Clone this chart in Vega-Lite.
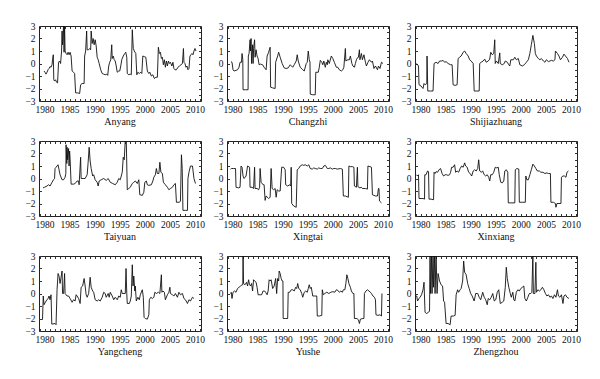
{
"$schema":"https://vega.github.io/schema/vega-lite/v6.json",
"background":"white",
"padding":{"left":24,"top":20,"right":2,"bottom":2},
"data":{"values":[
{"c":"Anyang","t":1979.9,"v":-0.6},{"c":"Anyang","t":1980.1,"v":-0.7},{"c":"Anyang","t":1980.3,"v":-0.85},{"c":"Anyang","t":1980.5,"v":-0.7},{"c":"Anyang","t":1980.7,"v":-0.5},{"c":"Anyang","t":1980.9,"v":-0.4},{"c":"Anyang","t":1981.1,"v":-0.25},{"c":"Anyang","t":1981.3,"v":-0.3},{"c":"Anyang","t":1981.5,"v":-0.1},{"c":"Anyang","t":1981.6,"v":0.3},{"c":"Anyang","t":1981.75,"v":0.7},{"c":"Anyang","t":1981.85,"v":-1.3},{"c":"Anyang","t":1982.0,"v":-1.4},{"c":"Anyang","t":1982.2,"v":-1.3},{"c":"Anyang","t":1982.4,"v":-1.5},{"c":"Anyang","t":1982.6,"v":-1.55},{"c":"Anyang","t":1982.8,"v":0.1},{"c":"Anyang","t":1983.0,"v":0.2},{"c":"Anyang","t":1983.2,"v":0.0},{"c":"Anyang","t":1983.4,"v":1.0},{"c":"Anyang","t":1983.5,"v":2.6},{"c":"Anyang","t":1983.6,"v":1.5},{"c":"Anyang","t":1983.8,"v":3.1},{"c":"Anyang","t":1983.9,"v":0.9},{"c":"Anyang","t":1984.0,"v":3.1},{"c":"Anyang","t":1984.1,"v":1.0},{"c":"Anyang","t":1984.3,"v":0.8},{"c":"Anyang","t":1984.5,"v":0.7},{"c":"Anyang","t":1984.7,"v":0.9},{"c":"Anyang","t":1984.9,"v":0.7},{"c":"Anyang","t":1985.1,"v":0.9},{"c":"Anyang","t":1985.3,"v":0.6},{"c":"Anyang","t":1985.5,"v":-0.6},{"c":"Anyang","t":1985.8,"v":-0.7},{"c":"Anyang","t":1986.0,"v":-0.8},{"c":"Anyang","t":1986.2,"v":-2.35},{"c":"Anyang","t":1986.6,"v":-2.35},{"c":"Anyang","t":1987.0,"v":-2.4},{"c":"Anyang","t":1987.2,"v":-1.7},{"c":"Anyang","t":1987.5,"v":-1.6},{"c":"Anyang","t":1987.9,"v":-1.6},{"c":"Anyang","t":1988.0,"v":0.6},{"c":"Anyang","t":1988.2,"v":1.0},{"c":"Anyang","t":1988.4,"v":2.6},{"c":"Anyang","t":1988.5,"v":1.1},{"c":"Anyang","t":1988.8,"v":1.1},{"c":"Anyang","t":1989.0,"v":1.2},{"c":"Anyang","t":1989.2,"v":1.1},{"c":"Anyang","t":1989.3,"v":2.6},{"c":"Anyang","t":1989.5,"v":1.6},{"c":"Anyang","t":1989.7,"v":2.0},{"c":"Anyang","t":1989.9,"v":1.5},{"c":"Anyang","t":1990.1,"v":1.9},{"c":"Anyang","t":1990.3,"v":1.4},{"c":"Anyang","t":1990.5,"v":0.5},{"c":"Anyang","t":1990.7,"v":0.3},{"c":"Anyang","t":1990.9,"v":0.0},{"c":"Anyang","t":1991.2,"v":-0.5},{"c":"Anyang","t":1991.5,"v":-0.8},{"c":"Anyang","t":1991.8,"v":-0.85},{"c":"Anyang","t":1992.1,"v":-0.9},{"c":"Anyang","t":1992.4,"v":-0.85},{"c":"Anyang","t":1992.6,"v":-0.95},{"c":"Anyang","t":1992.8,"v":-0.2},{"c":"Anyang","t":1993.0,"v":0.1},{"c":"Anyang","t":1993.2,"v":0.3},{"c":"Anyang","t":1993.4,"v":1.5},{"c":"Anyang","t":1993.5,"v":0.4},{"c":"Anyang","t":1993.7,"v":0.6},{"c":"Anyang","t":1993.9,"v":0.3},{"c":"Anyang","t":1994.1,"v":0.2},{"c":"Anyang","t":1994.3,"v":-0.2},{"c":"Anyang","t":1994.5,"v":-0.7},{"c":"Anyang","t":1994.8,"v":-0.6},{"c":"Anyang","t":1995.0,"v":-0.6},{"c":"Anyang","t":1995.2,"v":-0.2},{"c":"Anyang","t":1995.4,"v":0.3},{"c":"Anyang","t":1995.7,"v":0.6},{"c":"Anyang","t":1996.0,"v":0.8},{"c":"Anyang","t":1996.2,"v":0.9},{"c":"Anyang","t":1996.4,"v":0.5},{"c":"Anyang","t":1996.5,"v":-0.8},{"c":"Anyang","t":1996.8,"v":-0.9},{"c":"Anyang","t":1997.1,"v":-0.85},{"c":"Anyang","t":1997.3,"v":-0.9},{"c":"Anyang","t":1997.5,"v":2.7},{"c":"Anyang","t":1997.7,"v":1.2},{"c":"Anyang","t":1997.9,"v":1.0},{"c":"Anyang","t":1998.2,"v":0.8},{"c":"Anyang","t":1998.4,"v":-0.9},{"c":"Anyang","t":1998.6,"v":-0.7},{"c":"Anyang","t":1998.9,"v":-0.8},{"c":"Anyang","t":1999.2,"v":-0.7},{"c":"Anyang","t":1999.4,"v":-0.8},{"c":"Anyang","t":1999.6,"v":0.6},{"c":"Anyang","t":1999.9,"v":0.55},{"c":"Anyang","t":2000.2,"v":0.5},{"c":"Anyang","t":2000.5,"v":-0.6},{"c":"Anyang","t":2000.8,"v":-0.8},{"c":"Anyang","t":2001.0,"v":-0.7},{"c":"Anyang","t":2001.3,"v":-1.0},{"c":"Anyang","t":2001.6,"v":-0.9},{"c":"Anyang","t":2001.9,"v":-1.2},{"c":"Anyang","t":2002.2,"v":-1.1},{"c":"Anyang","t":2002.5,"v":-1.1},{"c":"Anyang","t":2002.7,"v":1.3},{"c":"Anyang","t":2002.9,"v":0.8},{"c":"Anyang","t":2003.1,"v":0.9},{"c":"Anyang","t":2003.3,"v":0.4},{"c":"Anyang","t":2003.5,"v":0.5},{"c":"Anyang","t":2003.7,"v":-0.1},{"c":"Anyang","t":2003.9,"v":0.3},{"c":"Anyang","t":2004.1,"v":-0.3},{"c":"Anyang","t":2004.3,"v":0.2},{"c":"Anyang","t":2004.5,"v":-0.2},{"c":"Anyang","t":2004.7,"v":0.2},{"c":"Anyang","t":2004.9,"v":0.0},{"c":"Anyang","t":2005.1,"v":0.1},{"c":"Anyang","t":2005.4,"v":-0.2},{"c":"Anyang","t":2005.6,"v":0.1},{"c":"Anyang","t":2005.8,"v":-0.4},{"c":"Anyang","t":2006.0,"v":-0.5},{"c":"Anyang","t":2006.3,"v":-0.5},{"c":"Anyang","t":2006.6,"v":-0.3},{"c":"Anyang","t":2006.9,"v":-0.2},{"c":"Anyang","t":2007.2,"v":-0.1},{"c":"Anyang","t":2007.5,"v":0.0},{"c":"Anyang","t":2007.7,"v":1.2},{"c":"Anyang","t":2007.8,"v":0.1},{"c":"Anyang","t":2008.0,"v":0.0},{"c":"Anyang","t":2008.2,"v":-0.3},{"c":"Anyang","t":2008.4,"v":-0.2},{"c":"Anyang","t":2008.6,"v":-0.5},{"c":"Anyang","t":2008.8,"v":-0.4},{"c":"Anyang","t":2009.0,"v":0.6},{"c":"Anyang","t":2009.2,"v":0.7},{"c":"Anyang","t":2009.4,"v":0.8},{"c":"Anyang","t":2009.6,"v":0.7},{"c":"Anyang","t":2009.8,"v":1.0},{"c":"Anyang","t":2010.0,"v":1.2},{"c":"Anyang","t":2010.2,"v":1.0},
{"c":"Changzhi","t":1979.7,"v":0.15},{"c":"Changzhi","t":1979.9,"v":0.1},{"c":"Changzhi","t":1980.1,"v":-0.5},{"c":"Changzhi","t":1980.3,"v":-0.6},{"c":"Changzhi","t":1980.7,"v":-0.55},{"c":"Changzhi","t":1981.0,"v":-0.5},{"c":"Changzhi","t":1981.3,"v":-0.3},{"c":"Changzhi","t":1981.5,"v":0.1},{"c":"Changzhi","t":1981.8,"v":0.1},{"c":"Changzhi","t":1981.9,"v":0.8},{"c":"Changzhi","t":1982.05,"v":0.3},{"c":"Changzhi","t":1982.1,"v":-2.1},{"c":"Changzhi","t":1982.6,"v":-2.1},{"c":"Changzhi","t":1983.1,"v":-2.1},{"c":"Changzhi","t":1983.15,"v":0.6},{"c":"Changzhi","t":1983.3,"v":0.8},{"c":"Changzhi","t":1983.5,"v":1.9},{"c":"Changzhi","t":1983.6,"v":1.0},{"c":"Changzhi","t":1983.7,"v":2.0},{"c":"Changzhi","t":1983.8,"v":0.0},{"c":"Changzhi","t":1984.0,"v":1.5},{"c":"Changzhi","t":1984.1,"v":0.0},{"c":"Changzhi","t":1984.2,"v":1.2},{"c":"Changzhi","t":1984.4,"v":1.9},{"c":"Changzhi","t":1984.5,"v":0.5},{"c":"Changzhi","t":1984.7,"v":1.1},{"c":"Changzhi","t":1984.9,"v":0.6},{"c":"Changzhi","t":1985.1,"v":0.4},{"c":"Changzhi","t":1985.3,"v":-0.1},{"c":"Changzhi","t":1985.6,"v":-0.05},{"c":"Changzhi","t":1986.0,"v":-0.1},{"c":"Changzhi","t":1986.3,"v":-0.3},{"c":"Changzhi","t":1986.7,"v":-0.5},{"c":"Changzhi","t":1986.9,"v":0.6},{"c":"Changzhi","t":1987.2,"v":0.9},{"c":"Changzhi","t":1987.5,"v":1.3},{"c":"Changzhi","t":1987.6,"v":-1.9},{"c":"Changzhi","t":1988.0,"v":-1.95},{"c":"Changzhi","t":1988.5,"v":-2.0},{"c":"Changzhi","t":1988.6,"v":0.1},{"c":"Changzhi","t":1989.0,"v":0.6},{"c":"Changzhi","t":1989.2,"v":0.9},{"c":"Changzhi","t":1989.5,"v":0.5},{"c":"Changzhi","t":1989.9,"v":0.0},{"c":"Changzhi","t":1990.3,"v":-0.35},{"c":"Changzhi","t":1990.7,"v":-0.4},{"c":"Changzhi","t":1991.1,"v":-0.35},{"c":"Changzhi","t":1991.5,"v":-0.1},{"c":"Changzhi","t":1992.0,"v":-0.3},{"c":"Changzhi","t":1992.3,"v":-0.1},{"c":"Changzhi","t":1992.7,"v":0.2},{"c":"Changzhi","t":1992.9,"v":0.7},{"c":"Changzhi","t":1993.1,"v":0.2},{"c":"Changzhi","t":1993.5,"v":-0.3},{"c":"Changzhi","t":1994.0,"v":-0.5},{"c":"Changzhi","t":1994.3,"v":-0.6},{"c":"Changzhi","t":1994.7,"v":0.0},{"c":"Changzhi","t":1994.9,"v":0.1},{"c":"Changzhi","t":1995.1,"v":1.0},{"c":"Changzhi","t":1995.3,"v":0.3},{"c":"Changzhi","t":1995.45,"v":0.1},{"c":"Changzhi","t":1995.5,"v":-2.45},{"c":"Changzhi","t":1996.0,"v":-2.5},{"c":"Changzhi","t":1996.5,"v":-2.5},{"c":"Changzhi","t":1996.6,"v":-0.7},{"c":"Changzhi","t":1997.1,"v":-0.7},{"c":"Changzhi","t":1997.3,"v":-0.3},{"c":"Changzhi","t":1997.5,"v":0.25},{"c":"Changzhi","t":1997.8,"v":0.1},{"c":"Changzhi","t":1998.0,"v":-0.1},{"c":"Changzhi","t":1998.2,"v":0.2},{"c":"Changzhi","t":1998.5,"v":-0.3},{"c":"Changzhi","t":1998.7,"v":0.1},{"c":"Changzhi","t":1998.9,"v":-0.1},{"c":"Changzhi","t":1999.0,"v":0.3},{"c":"Changzhi","t":1999.3,"v":0.0},{"c":"Changzhi","t":1999.7,"v":0.6},{"c":"Changzhi","t":2000.0,"v":0.4},{"c":"Changzhi","t":2000.3,"v":0.1},{"c":"Changzhi","t":2000.7,"v":-0.3},{"c":"Changzhi","t":2001.0,"v":-0.3},{"c":"Changzhi","t":2001.3,"v":-0.5},{"c":"Changzhi","t":2001.7,"v":-0.6},{"c":"Changzhi","t":2002.0,"v":-0.5},{"c":"Changzhi","t":2002.2,"v":-0.3},{"c":"Changzhi","t":2002.5,"v":1.2},{"c":"Changzhi","t":2002.6,"v":0.2},{"c":"Changzhi","t":2003.0,"v":0.3},{"c":"Changzhi","t":2003.3,"v":0.3},{"c":"Changzhi","t":2003.5,"v":0.6},{"c":"Changzhi","t":2003.8,"v":0.0},{"c":"Changzhi","t":2004.0,"v":-0.2},{"c":"Changzhi","t":2004.3,"v":-0.3},{"c":"Changzhi","t":2004.5,"v":0.0},{"c":"Changzhi","t":2004.7,"v":0.3},{"c":"Changzhi","t":2005.0,"v":0.5},{"c":"Changzhi","t":2005.1,"v":0.5},{"c":"Changzhi","t":2005.3,"v":1.1},{"c":"Changzhi","t":2005.4,"v":0.3},{"c":"Changzhi","t":2005.7,"v":0.8},{"c":"Changzhi","t":2005.9,"v":0.3},{"c":"Changzhi","t":2006.2,"v":0.7},{"c":"Changzhi","t":2006.5,"v":0.1},{"c":"Changzhi","t":2006.7,"v":-0.2},{"c":"Changzhi","t":2007.0,"v":0.1},{"c":"Changzhi","t":2007.3,"v":0.3},{"c":"Changzhi","t":2007.7,"v":0.1},{"c":"Changzhi","t":2007.9,"v":0.2},{"c":"Changzhi","t":2008.2,"v":-0.4},{"c":"Changzhi","t":2008.5,"v":-0.2},{"c":"Changzhi","t":2008.9,"v":-0.5},{"c":"Changzhi","t":2009.1,"v":-0.2},{"c":"Changzhi","t":2009.4,"v":-0.4},{"c":"Changzhi","t":2009.7,"v":0.1},{"c":"Changzhi","t":2010.0,"v":0.0},
{"c":"Shijiazhuang","t":1979.2,"v":0.0},{"c":"Shijiazhuang","t":1979.4,"v":-0.1},{"c":"Shijiazhuang","t":1979.6,"v":-0.2},{"c":"Shijiazhuang","t":1979.7,"v":-1.7},{"c":"Shijiazhuang","t":1980.1,"v":-1.8},{"c":"Shijiazhuang","t":1980.5,"v":-2.0},{"c":"Shijiazhuang","t":1980.7,"v":-1.6},{"c":"Shijiazhuang","t":1980.9,"v":-1.7},{"c":"Shijiazhuang","t":1981.25,"v":-1.6},{"c":"Shijiazhuang","t":1981.3,"v":0.6},{"c":"Shijiazhuang","t":1981.45,"v":-2.2},{"c":"Shijiazhuang","t":1982.0,"v":-2.2},{"c":"Shijiazhuang","t":1982.5,"v":-2.2},{"c":"Shijiazhuang","t":1982.7,"v":0.0},{"c":"Shijiazhuang","t":1983.1,"v":0.1},{"c":"Shijiazhuang","t":1983.5,"v":0.0},{"c":"Shijiazhuang","t":1983.8,"v":0.2},{"c":"Shijiazhuang","t":1984.2,"v":0.2},{"c":"Shijiazhuang","t":1984.5,"v":0.25},{"c":"Shijiazhuang","t":1984.8,"v":0.1},{"c":"Shijiazhuang","t":1985.1,"v":0.15},{"c":"Shijiazhuang","t":1985.5,"v":0.0},{"c":"Shijiazhuang","t":1986.0,"v":-0.1},{"c":"Shijiazhuang","t":1986.3,"v":-0.1},{"c":"Shijiazhuang","t":1986.5,"v":-1.7},{"c":"Shijiazhuang","t":1986.9,"v":-1.75},{"c":"Shijiazhuang","t":1987.3,"v":-1.7},{"c":"Shijiazhuang","t":1987.5,"v":0.4},{"c":"Shijiazhuang","t":1987.8,"v":0.5},{"c":"Shijiazhuang","t":1988.1,"v":0.6},{"c":"Shijiazhuang","t":1988.5,"v":0.9},{"c":"Shijiazhuang","t":1988.8,"v":1.0},{"c":"Shijiazhuang","t":1989.1,"v":0.8},{"c":"Shijiazhuang","t":1989.5,"v":0.6},{"c":"Shijiazhuang","t":1989.8,"v":0.3},{"c":"Shijiazhuang","t":1990.1,"v":0.2},{"c":"Shijiazhuang","t":1990.5,"v":0.0},{"c":"Shijiazhuang","t":1990.7,"v":-2.2},{"c":"Shijiazhuang","t":1991.2,"v":-2.2},{"c":"Shijiazhuang","t":1991.7,"v":-2.2},{"c":"Shijiazhuang","t":1991.8,"v":0.0},{"c":"Shijiazhuang","t":1992.1,"v":0.1},{"c":"Shijiazhuang","t":1992.5,"v":0.2},{"c":"Shijiazhuang","t":1992.8,"v":0.35},{"c":"Shijiazhuang","t":1993.1,"v":0.1},{"c":"Shijiazhuang","t":1993.5,"v":0.2},{"c":"Shijiazhuang","t":1993.8,"v":0.35},{"c":"Shijiazhuang","t":1994.0,"v":0.9},{"c":"Shijiazhuang","t":1994.3,"v":0.7},{"c":"Shijiazhuang","t":1994.6,"v":0.8},{"c":"Shijiazhuang","t":1994.8,"v":1.9},{"c":"Shijiazhuang","t":1994.9,"v":0.0},{"c":"Shijiazhuang","t":1995.1,"v":0.2},{"c":"Shijiazhuang","t":1995.5,"v":0.0},{"c":"Shijiazhuang","t":1995.8,"v":0.85},{"c":"Shijiazhuang","t":1995.9,"v":0.0},{"c":"Shijiazhuang","t":1996.3,"v":-0.1},{"c":"Shijiazhuang","t":1996.7,"v":0.0},{"c":"Shijiazhuang","t":1996.9,"v":0.2},{"c":"Shijiazhuang","t":1997.3,"v":0.1},{"c":"Shijiazhuang","t":1997.6,"v":-0.1},{"c":"Shijiazhuang","t":1997.8,"v":-0.2},{"c":"Shijiazhuang","t":1998.0,"v":0.3},{"c":"Shijiazhuang","t":1998.5,"v":0.3},{"c":"Shijiazhuang","t":1998.8,"v":0.5},{"c":"Shijiazhuang","t":1999.1,"v":0.3},{"c":"Shijiazhuang","t":1999.5,"v":0.4},{"c":"Shijiazhuang","t":1999.8,"v":-0.1},{"c":"Shijiazhuang","t":2000.3,"v":-0.2},{"c":"Shijiazhuang","t":2000.7,"v":-0.1},{"c":"Shijiazhuang","t":2001.1,"v":0.1},{"c":"Shijiazhuang","t":2001.5,"v":0.3},{"c":"Shijiazhuang","t":2001.8,"v":0.8},{"c":"Shijiazhuang","t":2002.1,"v":1.5},{"c":"Shijiazhuang","t":2002.4,"v":2.25},{"c":"Shijiazhuang","t":2002.7,"v":1.6},{"c":"Shijiazhuang","t":2002.9,"v":0.8},{"c":"Shijiazhuang","t":2003.1,"v":0.6},{"c":"Shijiazhuang","t":2003.5,"v":0.4},{"c":"Shijiazhuang","t":2003.8,"v":0.3},{"c":"Shijiazhuang","t":2004.1,"v":0.4},{"c":"Shijiazhuang","t":2004.5,"v":0.2},{"c":"Shijiazhuang","t":2004.8,"v":0.1},{"c":"Shijiazhuang","t":2005.1,"v":0.3},{"c":"Shijiazhuang","t":2005.5,"v":0.15},{"c":"Shijiazhuang","t":2005.8,"v":0.2},{"c":"Shijiazhuang","t":2006.1,"v":0.25},{"c":"Shijiazhuang","t":2006.5,"v":0.2},{"c":"Shijiazhuang","t":2006.8,"v":0.3},{"c":"Shijiazhuang","t":2006.9,"v":1.0},{"c":"Shijiazhuang","t":2007.3,"v":0.8},{"c":"Shijiazhuang","t":2007.6,"v":0.6},{"c":"Shijiazhuang","t":2007.9,"v":0.3},{"c":"Shijiazhuang","t":2008.3,"v":0.5},{"c":"Shijiazhuang","t":2008.6,"v":0.75},{"c":"Shijiazhuang","t":2008.9,"v":0.6},{"c":"Shijiazhuang","t":2009.3,"v":0.4},{"c":"Shijiazhuang","t":2009.6,"v":0.1},
{"c":"Taiyuan","t":1979.7,"v":-0.75},{"c":"Taiyuan","t":1980.0,"v":-0.7},{"c":"Taiyuan","t":1980.5,"v":-0.6},{"c":"Taiyuan","t":1980.8,"v":-0.5},{"c":"Taiyuan","t":1981.1,"v":-0.6},{"c":"Taiyuan","t":1981.5,"v":-0.3},{"c":"Taiyuan","t":1981.8,"v":-0.1},{"c":"Taiyuan","t":1982.0,"v":0.0},{"c":"Taiyuan","t":1982.1,"v":0.8},{"c":"Taiyuan","t":1982.3,"v":0.9},{"c":"Taiyuan","t":1982.7,"v":1.1},{"c":"Taiyuan","t":1982.9,"v":0.7},{"c":"Taiyuan","t":1983.1,"v":0.3},{"c":"Taiyuan","t":1983.5,"v":-0.1},{"c":"Taiyuan","t":1983.8,"v":-0.1},{"c":"Taiyuan","t":1984.1,"v":0.1},{"c":"Taiyuan","t":1984.25,"v":0.4},{"c":"Taiyuan","t":1984.3,"v":2.7},{"c":"Taiyuan","t":1984.45,"v":1.2},{"c":"Taiyuan","t":1984.5,"v":2.5},{"c":"Taiyuan","t":1984.6,"v":1.5},{"c":"Taiyuan","t":1984.8,"v":2.4},{"c":"Taiyuan","t":1984.9,"v":1.0},{"c":"Taiyuan","t":1985.0,"v":2.2},{"c":"Taiyuan","t":1985.1,"v":1.6},{"c":"Taiyuan","t":1985.3,"v":-0.45},{"c":"Taiyuan","t":1985.8,"v":-0.45},{"c":"Taiyuan","t":1986.1,"v":-0.4},{"c":"Taiyuan","t":1986.5,"v":-0.2},{"c":"Taiyuan","t":1986.8,"v":-0.2},{"c":"Taiyuan","t":1986.9,"v":-0.5},{"c":"Taiyuan","t":1987.2,"v":1.7},{"c":"Taiyuan","t":1987.3,"v":0.0},{"c":"Taiyuan","t":1987.7,"v":0.0},{"c":"Taiyuan","t":1988.1,"v":0.0},{"c":"Taiyuan","t":1988.5,"v":0.3},{"c":"Taiyuan","t":1988.7,"v":1.3},{"c":"Taiyuan","t":1988.9,"v":2.5},{"c":"Taiyuan","t":1989.1,"v":1.4},{"c":"Taiyuan","t":1989.3,"v":0.8},{"c":"Taiyuan","t":1989.6,"v":0.2},{"c":"Taiyuan","t":1989.8,"v":0.3},{"c":"Taiyuan","t":1990.1,"v":-0.1},{"c":"Taiyuan","t":1990.5,"v":-0.3},{"c":"Taiyuan","t":1990.7,"v":-0.6},{"c":"Taiyuan","t":1990.9,"v":-0.2},{"c":"Taiyuan","t":1991.3,"v":-0.1},{"c":"Taiyuan","t":1991.8,"v":0.0},{"c":"Taiyuan","t":1992.3,"v":-0.15},{"c":"Taiyuan","t":1992.7,"v":0.0},{"c":"Taiyuan","t":1993.1,"v":-0.3},{"c":"Taiyuan","t":1993.6,"v":-0.4},{"c":"Taiyuan","t":1994.1,"v":-0.5},{"c":"Taiyuan","t":1994.5,"v":-0.3},{"c":"Taiyuan","t":1994.8,"v":0.0},{"c":"Taiyuan","t":1995.1,"v":-0.1},{"c":"Taiyuan","t":1995.5,"v":0.5},{"c":"Taiyuan","t":1995.7,"v":1.7},{"c":"Taiyuan","t":1995.9,"v":1.5},{"c":"Taiyuan","t":1996.1,"v":3.1},{"c":"Taiyuan","t":1996.3,"v":3.1},{"c":"Taiyuan","t":1996.5,"v":-0.9},{"c":"Taiyuan","t":1996.8,"v":-0.8},{"c":"Taiyuan","t":1997.1,"v":-0.7},{"c":"Taiyuan","t":1997.5,"v":-0.4},{"c":"Taiyuan","t":1997.8,"v":-0.3},{"c":"Taiyuan","t":1998.1,"v":-0.2},{"c":"Taiyuan","t":1998.5,"v":-0.4},{"c":"Taiyuan","t":1998.8,"v":-0.1},{"c":"Taiyuan","t":1999.0,"v":-1.3},{"c":"Taiyuan","t":1999.5,"v":-1.35},{"c":"Taiyuan","t":1999.8,"v":-1.1},{"c":"Taiyuan","t":2000.0,"v":-0.3},{"c":"Taiyuan","t":2000.3,"v":-0.2},{"c":"Taiyuan","t":2000.5,"v":-0.5},{"c":"Taiyuan","t":2000.8,"v":-0.55},{"c":"Taiyuan","t":2001.3,"v":-0.5},{"c":"Taiyuan","t":2001.6,"v":-0.2},{"c":"Taiyuan","t":2001.8,"v":0.1},{"c":"Taiyuan","t":2002.1,"v":0.3},{"c":"Taiyuan","t":2002.3,"v":0.8},{"c":"Taiyuan","t":2002.5,"v":0.4},{"c":"Taiyuan","t":2002.8,"v":0.4},{"c":"Taiyuan","t":2003.0,"v":1.3},{"c":"Taiyuan","t":2003.2,"v":0.5},{"c":"Taiyuan","t":2003.5,"v":0.4},{"c":"Taiyuan","t":2003.7,"v":-0.3},{"c":"Taiyuan","t":2004.1,"v":-0.5},{"c":"Taiyuan","t":2004.5,"v":-0.7},{"c":"Taiyuan","t":2004.8,"v":-0.9},{"c":"Taiyuan","t":2005.1,"v":-0.8},{"c":"Taiyuan","t":2005.5,"v":-0.7},{"c":"Taiyuan","t":2005.8,"v":-0.5},{"c":"Taiyuan","t":2006.1,"v":-0.4},{"c":"Taiyuan","t":2006.3,"v":-1.9},{"c":"Taiyuan","t":2006.9,"v":-1.9},{"c":"Taiyuan","t":2007.1,"v":-1.8},{"c":"Taiyuan","t":2007.3,"v":1.9},{"c":"Taiyuan","t":2007.45,"v":0.8},{"c":"Taiyuan","t":2007.6,"v":-2.55},{"c":"Taiyuan","t":2008.1,"v":-2.55},{"c":"Taiyuan","t":2008.5,"v":-2.55},{"c":"Taiyuan","t":2008.6,"v":0.0},{"c":"Taiyuan","t":2008.8,"v":0.5},{"c":"Taiyuan","t":2009.1,"v":1.0},{"c":"Taiyuan","t":2009.5,"v":1.0},{"c":"Taiyuan","t":2009.8,"v":0.0},{"c":"Taiyuan","t":2010.1,"v":-0.4},
{"c":"Xingtai","t":1979.6,"v":0.75},{"c":"Xingtai","t":1979.8,"v":0.8},{"c":"Xingtai","t":1980.2,"v":0.8},{"c":"Xingtai","t":1980.6,"v":0.8},{"c":"Xingtai","t":1980.7,"v":-0.7},{"c":"Xingtai","t":1981.2,"v":-0.75},{"c":"Xingtai","t":1981.5,"v":-0.7},{"c":"Xingtai","t":1981.7,"v":1.0},{"c":"Xingtai","t":1981.9,"v":0.9},{"c":"Xingtai","t":1982.1,"v":0.2},{"c":"Xingtai","t":1982.3,"v":0.0},{"c":"Xingtai","t":1982.7,"v":0.2},{"c":"Xingtai","t":1983.0,"v":1.0},{"c":"Xingtai","t":1983.4,"v":0.9},{"c":"Xingtai","t":1983.5,"v":-0.7},{"c":"Xingtai","t":1983.9,"v":-0.7},{"c":"Xingtai","t":1984.2,"v":-0.8},{"c":"Xingtai","t":1984.4,"v":0.9},{"c":"Xingtai","t":1984.5,"v":-0.8},{"c":"Xingtai","t":1984.9,"v":-0.8},{"c":"Xingtai","t":1985.2,"v":-0.9},{"c":"Xingtai","t":1985.4,"v":-0.7},{"c":"Xingtai","t":1985.5,"v":0.8},{"c":"Xingtai","t":1985.7,"v":-0.3},{"c":"Xingtai","t":1986.1,"v":-0.5},{"c":"Xingtai","t":1986.3,"v":-0.5},{"c":"Xingtai","t":1986.5,"v":-1.75},{"c":"Xingtai","t":1986.7,"v":-1.4},{"c":"Xingtai","t":1987.2,"v":-1.6},{"c":"Xingtai","t":1987.5,"v":-1.5},{"c":"Xingtai","t":1987.7,"v":0.8},{"c":"Xingtai","t":1987.9,"v":-0.8},{"c":"Xingtai","t":1988.2,"v":-0.9},{"c":"Xingtai","t":1988.5,"v":-0.8},{"c":"Xingtai","t":1988.7,"v":-1.5},{"c":"Xingtai","t":1988.9,"v":-0.9},{"c":"Xingtai","t":1989.2,"v":-1.0},{"c":"Xingtai","t":1989.5,"v":-1.0},{"c":"Xingtai","t":1989.8,"v":0.9},{"c":"Xingtai","t":1990.2,"v":0.9},{"c":"Xingtai","t":1990.5,"v":0.7},{"c":"Xingtai","t":1990.6,"v":-0.5},{"c":"Xingtai","t":1991.0,"v":-0.6},{"c":"Xingtai","t":1991.4,"v":-0.5},{"c":"Xingtai","t":1991.6,"v":-0.6},{"c":"Xingtai","t":1991.7,"v":0.9},{"c":"Xingtai","t":1991.8,"v":-2.0},{"c":"Xingtai","t":1992.2,"v":-2.2},{"c":"Xingtai","t":1992.7,"v":-2.3},{"c":"Xingtai","t":1992.9,"v":0.7},{"c":"Xingtai","t":1993.2,"v":0.8},{"c":"Xingtai","t":1993.5,"v":1.0},{"c":"Xingtai","t":1993.9,"v":1.1},{"c":"Xingtai","t":1994.2,"v":1.05},{"c":"Xingtai","t":1994.5,"v":1.1},{"c":"Xingtai","t":1994.9,"v":1.0},{"c":"Xingtai","t":1995.2,"v":1.1},{"c":"Xingtai","t":1995.5,"v":0.8},{"c":"Xingtai","t":1995.9,"v":0.75},{"c":"Xingtai","t":1996.2,"v":0.85},{"c":"Xingtai","t":1996.5,"v":0.8},{"c":"Xingtai","t":1996.9,"v":0.75},{"c":"Xingtai","t":1997.2,"v":0.85},{"c":"Xingtai","t":1997.5,"v":0.8},{"c":"Xingtai","t":1997.9,"v":0.8},{"c":"Xingtai","t":1998.2,"v":1.0},{"c":"Xingtai","t":1998.5,"v":1.05},{"c":"Xingtai","t":1998.9,"v":0.8},{"c":"Xingtai","t":1999.2,"v":0.8},{"c":"Xingtai","t":1999.5,"v":0.85},{"c":"Xingtai","t":1999.9,"v":0.75},{"c":"Xingtai","t":2000.2,"v":0.8},{"c":"Xingtai","t":2000.5,"v":0.8},{"c":"Xingtai","t":2000.9,"v":0.75},{"c":"Xingtai","t":2001.5,"v":0.8},{"c":"Xingtai","t":2001.9,"v":0.75},{"c":"Xingtai","t":2002.1,"v":-1.4},{"c":"Xingtai","t":2002.5,"v":-1.4},{"c":"Xingtai","t":2003.1,"v":-1.5},{"c":"Xingtai","t":2003.2,"v":1.0},{"c":"Xingtai","t":2003.5,"v":0.95},{"c":"Xingtai","t":2003.9,"v":0.95},{"c":"Xingtai","t":2004.2,"v":0.9},{"c":"Xingtai","t":2004.3,"v":-0.6},{"c":"Xingtai","t":2004.7,"v":-0.7},{"c":"Xingtai","t":2004.9,"v":0.9},{"c":"Xingtai","t":2005.0,"v":-0.65},{"c":"Xingtai","t":2005.4,"v":-0.75},{"c":"Xingtai","t":2005.7,"v":-0.7},{"c":"Xingtai","t":2005.9,"v":-0.8},{"c":"Xingtai","t":2006.5,"v":-0.8},{"c":"Xingtai","t":2006.9,"v":-0.85},{"c":"Xingtai","t":2007.0,"v":1.0},{"c":"Xingtai","t":2007.4,"v":0.95},{"c":"Xingtai","t":2007.7,"v":0.9},{"c":"Xingtai","t":2007.9,"v":-1.3},{"c":"Xingtai","t":2008.2,"v":-1.35},{"c":"Xingtai","t":2008.5,"v":-1.4},{"c":"Xingtai","t":2008.9,"v":-1.4},{"c":"Xingtai","t":2009.1,"v":-0.8},{"c":"Xingtai","t":2009.2,"v":-0.8},{"c":"Xingtai","t":2009.3,"v":-1.8},{"c":"Xingtai","t":2009.7,"v":-1.95},
{"c":"Xinxiang","t":1979.2,"v":0.3},{"c":"Xinxiang","t":1979.4,"v":0.2},{"c":"Xinxiang","t":1979.6,"v":0.3},{"c":"Xinxiang","t":1979.7,"v":-1.6},{"c":"Xinxiang","t":1980.1,"v":-1.6},{"c":"Xinxiang","t":1980.5,"v":-1.6},{"c":"Xinxiang","t":1980.8,"v":-1.65},{"c":"Xinxiang","t":1980.85,"v":0.3},{"c":"Xinxiang","t":1981.1,"v":0.3},{"c":"Xinxiang","t":1981.4,"v":0.6},{"c":"Xinxiang","t":1981.6,"v":0.55},{"c":"Xinxiang","t":1981.7,"v":-1.65},{"c":"Xinxiang","t":1982.1,"v":-1.65},{"c":"Xinxiang","t":1982.6,"v":-1.7},{"c":"Xinxiang","t":1982.7,"v":0.5},{"c":"Xinxiang","t":1982.9,"v":0.4},{"c":"Xinxiang","t":1983.1,"v":0.55},{"c":"Xinxiang","t":1983.4,"v":0.5},{"c":"Xinxiang","t":1983.7,"v":0.7},{"c":"Xinxiang","t":1984.0,"v":0.8},{"c":"Xinxiang","t":1984.3,"v":0.4},{"c":"Xinxiang","t":1984.6,"v":0.2},{"c":"Xinxiang","t":1984.9,"v":0.3},{"c":"Xinxiang","t":1985.2,"v":0.3},{"c":"Xinxiang","t":1985.5,"v":0.25},{"c":"Xinxiang","t":1985.8,"v":0.3},{"c":"Xinxiang","t":1986.0,"v":0.5},{"c":"Xinxiang","t":1986.2,"v":0.9},{"c":"Xinxiang","t":1986.5,"v":0.9},{"c":"Xinxiang","t":1986.8,"v":1.1},{"c":"Xinxiang","t":1987.0,"v":0.5},{"c":"Xinxiang","t":1987.3,"v":0.6},{"c":"Xinxiang","t":1987.6,"v":0.5},{"c":"Xinxiang","t":1987.9,"v":0.8},{"c":"Xinxiang","t":1988.2,"v":1.0},{"c":"Xinxiang","t":1988.5,"v":0.9},{"c":"Xinxiang","t":1988.8,"v":1.25},{"c":"Xinxiang","t":1989.0,"v":1.0},{"c":"Xinxiang","t":1989.3,"v":0.9},{"c":"Xinxiang","t":1989.6,"v":0.5},{"c":"Xinxiang","t":1989.9,"v":0.4},{"c":"Xinxiang","t":1990.2,"v":0.2},{"c":"Xinxiang","t":1990.5,"v":0.6},{"c":"Xinxiang","t":1990.8,"v":0.7},{"c":"Xinxiang","t":1991.1,"v":0.6},{"c":"Xinxiang","t":1991.4,"v":0.8},{"c":"Xinxiang","t":1991.6,"v":1.5},{"c":"Xinxiang","t":1991.8,"v":0.6},{"c":"Xinxiang","t":1992.1,"v":0.5},{"c":"Xinxiang","t":1992.4,"v":0.6},{"c":"Xinxiang","t":1992.7,"v":0.3},{"c":"Xinxiang","t":1993.0,"v":0.2},{"c":"Xinxiang","t":1993.3,"v":0.3},{"c":"Xinxiang","t":1993.6,"v":0.1},{"c":"Xinxiang","t":1993.8,"v":-0.2},{"c":"Xinxiang","t":1994.0,"v":0.3},{"c":"Xinxiang","t":1994.3,"v":0.3},{"c":"Xinxiang","t":1994.6,"v":0.5},{"c":"Xinxiang","t":1994.9,"v":0.9},{"c":"Xinxiang","t":1995.2,"v":0.85},{"c":"Xinxiang","t":1995.5,"v":0.9},{"c":"Xinxiang","t":1995.7,"v":0.3},{"c":"Xinxiang","t":1996.0,"v":-0.3},{"c":"Xinxiang","t":1996.3,"v":-0.35},{"c":"Xinxiang","t":1996.6,"v":-0.2},{"c":"Xinxiang","t":1996.8,"v":0.6},{"c":"Xinxiang","t":1997.1,"v":0.7},{"c":"Xinxiang","t":1997.4,"v":0.5},{"c":"Xinxiang","t":1997.5,"v":-1.95},{"c":"Xinxiang","t":1998.0,"v":-1.95},{"c":"Xinxiang","t":1998.8,"v":-1.95},{"c":"Xinxiang","t":1998.9,"v":0.7},{"c":"Xinxiang","t":1999.2,"v":0.8},{"c":"Xinxiang","t":1999.6,"v":0.75},{"c":"Xinxiang","t":1999.7,"v":-1.9},{"c":"Xinxiang","t":2000.3,"v":-1.9},{"c":"Xinxiang","t":2000.9,"v":-1.9},{"c":"Xinxiang","t":2001.0,"v":0.2},{"c":"Xinxiang","t":2001.2,"v":-0.1},{"c":"Xinxiang","t":2001.5,"v":-0.1},{"c":"Xinxiang","t":2001.8,"v":0.3},{"c":"Xinxiang","t":2002.1,"v":0.7},{"c":"Xinxiang","t":2002.4,"v":1.15},{"c":"Xinxiang","t":2002.7,"v":1.0},{"c":"Xinxiang","t":2003.0,"v":0.8},{"c":"Xinxiang","t":2003.3,"v":0.6},{"c":"Xinxiang","t":2003.7,"v":0.6},{"c":"Xinxiang","t":2004.0,"v":0.5},{"c":"Xinxiang","t":2004.4,"v":0.5},{"c":"Xinxiang","t":2004.8,"v":0.4},{"c":"Xinxiang","t":2005.2,"v":0.45},{"c":"Xinxiang","t":2005.5,"v":0.4},{"c":"Xinxiang","t":2005.9,"v":0.4},{"c":"Xinxiang","t":2006.0,"v":-1.9},{"c":"Xinxiang","t":2006.5,"v":-1.9},{"c":"Xinxiang","t":2006.9,"v":-2.0},{"c":"Xinxiang","t":2007.0,"v":-2.3},{"c":"Xinxiang","t":2007.2,"v":-2.0},{"c":"Xinxiang","t":2007.6,"v":-2.0},{"c":"Xinxiang","t":2008.0,"v":-2.0},{"c":"Xinxiang","t":2008.1,"v":0.1},{"c":"Xinxiang","t":2008.4,"v":0.2},{"c":"Xinxiang","t":2008.7,"v":0.2},{"c":"Xinxiang","t":2009.0,"v":0.1},{"c":"Xinxiang","t":2009.2,"v":0.5},{"c":"Xinxiang","t":2009.5,"v":0.6},
{"c":"Yangcheng","t":1979.6,"v":-2.1},{"c":"Yangcheng","t":1979.75,"v":-0.2},{"c":"Yangcheng","t":1979.9,"v":-0.9},{"c":"Yangcheng","t":1980.3,"v":-0.6},{"c":"Yangcheng","t":1980.7,"v":-0.4},{"c":"Yangcheng","t":1980.9,"v":-0.2},{"c":"Yangcheng","t":1981.1,"v":-0.5},{"c":"Yangcheng","t":1981.3,"v":-0.1},{"c":"Yangcheng","t":1981.45,"v":-2.45},{"c":"Yangcheng","t":1982.1,"v":-2.4},{"c":"Yangcheng","t":1982.3,"v":-2.5},{"c":"Yangcheng","t":1982.5,"v":0.3},{"c":"Yangcheng","t":1982.7,"v":1.6},{"c":"Yangcheng","t":1982.9,"v":1.4},{"c":"Yangcheng","t":1983.1,"v":0.8},{"c":"Yangcheng","t":1983.3,"v":1.3},{"c":"Yangcheng","t":1983.5,"v":1.8},{"c":"Yangcheng","t":1983.6,"v":0.0},{"c":"Yangcheng","t":1983.8,"v":0.0},{"c":"Yangcheng","t":1984.0,"v":1.6},{"c":"Yangcheng","t":1984.1,"v":0.0},{"c":"Yangcheng","t":1984.5,"v":-0.2},{"c":"Yangcheng","t":1984.8,"v":-0.2},{"c":"Yangcheng","t":1985.1,"v":-0.4},{"c":"Yangcheng","t":1985.5,"v":-0.7},{"c":"Yangcheng","t":1985.8,"v":-0.5},{"c":"Yangcheng","t":1986.1,"v":-0.6},{"c":"Yangcheng","t":1986.3,"v":-0.1},{"c":"Yangcheng","t":1986.5,"v":-0.2},{"c":"Yangcheng","t":1986.8,"v":-0.4},{"c":"Yangcheng","t":1987.1,"v":-0.8},{"c":"Yangcheng","t":1987.3,"v":0.5},{"c":"Yangcheng","t":1987.6,"v":0.6},{"c":"Yangcheng","t":1987.9,"v":1.2},{"c":"Yangcheng","t":1988.1,"v":0.6},{"c":"Yangcheng","t":1988.3,"v":-0.1},{"c":"Yangcheng","t":1988.5,"v":-0.3},{"c":"Yangcheng","t":1988.8,"v":0.0},{"c":"Yangcheng","t":1989.1,"v":1.3},{"c":"Yangcheng","t":1989.3,"v":0.5},{"c":"Yangcheng","t":1989.6,"v":0.2},{"c":"Yangcheng","t":1989.8,"v":0.1},{"c":"Yangcheng","t":1990.1,"v":-0.5},{"c":"Yangcheng","t":1990.5,"v":-0.6},{"c":"Yangcheng","t":1990.8,"v":-0.5},{"c":"Yangcheng","t":1991.1,"v":-0.6},{"c":"Yangcheng","t":1991.5,"v":-0.3},{"c":"Yangcheng","t":1991.8,"v":0.1},{"c":"Yangcheng","t":1992.1,"v":0.0},{"c":"Yangcheng","t":1992.3,"v":-0.3},{"c":"Yangcheng","t":1992.7,"v":0.0},{"c":"Yangcheng","t":1992.9,"v":-0.3},{"c":"Yangcheng","t":1993.1,"v":0.1},{"c":"Yangcheng","t":1993.5,"v":-0.2},{"c":"Yangcheng","t":1993.8,"v":-0.5},{"c":"Yangcheng","t":1994.1,"v":-0.3},{"c":"Yangcheng","t":1994.5,"v":-0.5},{"c":"Yangcheng","t":1994.8,"v":-0.2},{"c":"Yangcheng","t":1995.1,"v":-0.3},{"c":"Yangcheng","t":1995.3,"v":0.3},{"c":"Yangcheng","t":1995.5,"v":0.0},{"c":"Yangcheng","t":1996.1,"v":0.0},{"c":"Yangcheng","t":1996.25,"v":2.0},{"c":"Yangcheng","t":1996.4,"v":0.0},{"c":"Yangcheng","t":1996.5,"v":-0.8},{"c":"Yangcheng","t":1996.9,"v":-0.8},{"c":"Yangcheng","t":1997.1,"v":-0.6},{"c":"Yangcheng","t":1997.3,"v":-0.2},{"c":"Yangcheng","t":1997.5,"v":2.3},{"c":"Yangcheng","t":1997.65,"v":0.6},{"c":"Yangcheng","t":1997.8,"v":1.4},{"c":"Yangcheng","t":1998.0,"v":0.2},{"c":"Yangcheng","t":1998.1,"v":0.6},{"c":"Yangcheng","t":1998.3,"v":-0.6},{"c":"Yangcheng","t":1998.6,"v":-0.3},{"c":"Yangcheng","t":1998.9,"v":-0.5},{"c":"Yangcheng","t":1999.1,"v":-0.1},{"c":"Yangcheng","t":1999.5,"v":0.3},{"c":"Yangcheng","t":1999.7,"v":-0.3},{"c":"Yangcheng","t":1999.85,"v":-1.9},{"c":"Yangcheng","t":2000.1,"v":-2.0},{"c":"Yangcheng","t":2000.5,"v":-2.05},{"c":"Yangcheng","t":2000.8,"v":-1.7},{"c":"Yangcheng","t":2000.9,"v":-0.5},{"c":"Yangcheng","t":2001.2,"v":-0.3},{"c":"Yangcheng","t":2001.5,"v":-0.4},{"c":"Yangcheng","t":2001.8,"v":-0.3},{"c":"Yangcheng","t":2002.0,"v":0.1},{"c":"Yangcheng","t":2002.3,"v":0.0},{"c":"Yangcheng","t":2002.7,"v":0.1},{"c":"Yangcheng","t":2003.0,"v":0.0},{"c":"Yangcheng","t":2003.3,"v":1.5},{"c":"Yangcheng","t":2003.4,"v":0.1},{"c":"Yangcheng","t":2003.6,"v":0.2},{"c":"Yangcheng","t":2003.9,"v":0.1},{"c":"Yangcheng","t":2004.1,"v":-0.5},{"c":"Yangcheng","t":2004.5,"v":-0.1},{"c":"Yangcheng","t":2004.8,"v":0.1},{"c":"Yangcheng","t":2005.0,"v":0.5},{"c":"Yangcheng","t":2005.1,"v":0.0},{"c":"Yangcheng","t":2005.5,"v":-0.1},{"c":"Yangcheng","t":2005.8,"v":-0.2},{"c":"Yangcheng","t":2006.1,"v":0.0},{"c":"Yangcheng","t":2006.5,"v":-0.3},{"c":"Yangcheng","t":2006.8,"v":0.1},{"c":"Yangcheng","t":2007.1,"v":-0.1},{"c":"Yangcheng","t":2007.5,"v":0.0},{"c":"Yangcheng","t":2007.8,"v":-0.4},{"c":"Yangcheng","t":2008.1,"v":-0.5},{"c":"Yangcheng","t":2008.5,"v":-0.8},{"c":"Yangcheng","t":2008.8,"v":-0.5},{"c":"Yangcheng","t":2009.1,"v":-0.6},{"c":"Yangcheng","t":2009.5,"v":-0.3},{"c":"Yangcheng","t":2009.8,"v":-0.4},
{"c":"Yushe","t":1979.6,"v":0.0},{"c":"Yushe","t":1979.75,"v":0.1},{"c":"Yushe","t":1979.9,"v":-0.4},{"c":"Yushe","t":1980.1,"v":0.1},{"c":"Yushe","t":1980.4,"v":0.2},{"c":"Yushe","t":1980.7,"v":0.1},{"c":"Yushe","t":1981.0,"v":0.4},{"c":"Yushe","t":1981.3,"v":0.5},{"c":"Yushe","t":1981.6,"v":0.6},{"c":"Yushe","t":1981.9,"v":0.7},{"c":"Yushe","t":1982.05,"v":0.7},{"c":"Yushe","t":1982.1,"v":3.1},{"c":"Yushe","t":1982.2,"v":0.8},{"c":"Yushe","t":1982.5,"v":0.7},{"c":"Yushe","t":1982.8,"v":0.9},{"c":"Yushe","t":1983.0,"v":0.6},{"c":"Yushe","t":1983.2,"v":1.1},{"c":"Yushe","t":1983.4,"v":0.7},{"c":"Yushe","t":1983.6,"v":0.6},{"c":"Yushe","t":1983.8,"v":0.8},{"c":"Yushe","t":1984.0,"v":0.2},{"c":"Yushe","t":1984.2,"v":1.1},{"c":"Yushe","t":1984.4,"v":1.0},{"c":"Yushe","t":1984.7,"v":0.9},{"c":"Yushe","t":1984.9,"v":0.5},{"c":"Yushe","t":1985.1,"v":-0.1},{"c":"Yushe","t":1985.5,"v":-0.1},{"c":"Yushe","t":1985.8,"v":-0.1},{"c":"Yushe","t":1986.1,"v":0.2},{"c":"Yushe","t":1986.4,"v":0.2},{"c":"Yushe","t":1986.6,"v":0.1},{"c":"Yushe","t":1986.9,"v":-0.1},{"c":"Yushe","t":1987.1,"v":0.2},{"c":"Yushe","t":1987.3,"v":1.1},{"c":"Yushe","t":1987.5,"v":1.0},{"c":"Yushe","t":1987.7,"v":1.1},{"c":"Yushe","t":1988.0,"v":0.4},{"c":"Yushe","t":1988.3,"v":0.6},{"c":"Yushe","t":1988.6,"v":1.2},{"c":"Yushe","t":1988.8,"v":0.0},{"c":"Yushe","t":1989.0,"v":1.2},{"c":"Yushe","t":1989.2,"v":1.0},{"c":"Yushe","t":1989.3,"v":1.8},{"c":"Yushe","t":1989.5,"v":1.6},{"c":"Yushe","t":1989.7,"v":1.2},{"c":"Yushe","t":1989.9,"v":1.0},{"c":"Yushe","t":1990.05,"v":1.0},{"c":"Yushe","t":1990.1,"v":-2.0},{"c":"Yushe","t":1990.5,"v":-2.0},{"c":"Yushe","t":1991.0,"v":-2.0},{"c":"Yushe","t":1991.1,"v":0.1},{"c":"Yushe","t":1991.4,"v":0.1},{"c":"Yushe","t":1991.7,"v":0.3},{"c":"Yushe","t":1992.0,"v":0.3},{"c":"Yushe","t":1992.3,"v":0.2},{"c":"Yushe","t":1992.6,"v":0.5},{"c":"Yushe","t":1992.8,"v":0.4},{"c":"Yushe","t":1993.0,"v":0.8},{"c":"Yushe","t":1993.2,"v":0.4},{"c":"Yushe","t":1993.5,"v":0.3},{"c":"Yushe","t":1993.8,"v":0.0},{"c":"Yushe","t":1994.0,"v":-0.3},{"c":"Yushe","t":1994.3,"v":0.1},{"c":"Yushe","t":1994.6,"v":0.2},{"c":"Yushe","t":1994.9,"v":0.1},{"c":"Yushe","t":1995.1,"v":0.4},{"c":"Yushe","t":1995.3,"v":0.7},{"c":"Yushe","t":1995.5,"v":0.4},{"c":"Yushe","t":1995.7,"v":0.5},{"c":"Yushe","t":1996.0,"v":-0.2},{"c":"Yushe","t":1996.3,"v":-0.2},{"c":"Yushe","t":1996.8,"v":-0.2},{"c":"Yushe","t":1996.9,"v":-1.8},{"c":"Yushe","t":1997.3,"v":-1.8},{"c":"Yushe","t":1997.8,"v":-1.75},{"c":"Yushe","t":1997.9,"v":0.3},{"c":"Yushe","t":1998.1,"v":-0.1},{"c":"Yushe","t":1998.4,"v":0.0},{"c":"Yushe","t":1998.8,"v":0.1},{"c":"Yushe","t":1999.2,"v":0.0},{"c":"Yushe","t":1999.6,"v":0.1},{"c":"Yushe","t":2000.0,"v":0.15},{"c":"Yushe","t":2000.4,"v":0.1},{"c":"Yushe","t":2000.7,"v":0.3},{"c":"Yushe","t":2001.0,"v":0.25},{"c":"Yushe","t":2001.3,"v":0.1},{"c":"Yushe","t":2001.6,"v":0.2},{"c":"Yushe","t":2001.9,"v":0.1},{"c":"Yushe","t":2002.1,"v":0.3},{"c":"Yushe","t":2002.4,"v":0.3},{"c":"Yushe","t":2002.6,"v":0.8},{"c":"Yushe","t":2002.8,"v":1.5},{"c":"Yushe","t":2003.0,"v":1.2},{"c":"Yushe","t":2003.2,"v":0.8},{"c":"Yushe","t":2003.5,"v":0.5},{"c":"Yushe","t":2003.7,"v":0.2},{"c":"Yushe","t":2004.0,"v":0.0},{"c":"Yushe","t":2004.2,"v":0.0},{"c":"Yushe","t":2004.3,"v":-2.0},{"c":"Yushe","t":2004.8,"v":-2.0},{"c":"Yushe","t":2005.1,"v":-2.1},{"c":"Yushe","t":2005.3,"v":-2.4},{"c":"Yushe","t":2005.5,"v":-2.05},{"c":"Yushe","t":2006.0,"v":-2.0},{"c":"Yushe","t":2006.2,"v":-2.0},{"c":"Yushe","t":2006.3,"v":0.0},{"c":"Yushe","t":2006.6,"v":0.2},{"c":"Yushe","t":2006.9,"v":0.3},{"c":"Yushe","t":2007.2,"v":0.2},{"c":"Yushe","t":2007.5,"v":0.1},{"c":"Yushe","t":2007.7,"v":0.0},{"c":"Yushe","t":2008.0,"v":-0.2},{"c":"Yushe","t":2008.3,"v":-0.3},{"c":"Yushe","t":2008.5,"v":-0.5},{"c":"Yushe","t":2008.6,"v":-1.7},{"c":"Yushe","t":2009.0,"v":-1.75},{"c":"Yushe","t":2009.4,"v":-1.7},{"c":"Yushe","t":2009.7,"v":-1.8},{"c":"Yushe","t":2009.8,"v":0.0},
{"c":"Zhengzhou","t":1979.1,"v":-0.2},{"c":"Zhengzhou","t":1979.25,"v":-0.2},{"c":"Zhengzhou","t":1979.4,"v":-0.6},{"c":"Zhengzhou","t":1979.7,"v":-0.4},{"c":"Zhengzhou","t":1979.9,"v":-0.3},{"c":"Zhengzhou","t":1980.2,"v":-0.1},{"c":"Zhengzhou","t":1980.5,"v":0.3},{"c":"Zhengzhou","t":1980.7,"v":0.9},{"c":"Zhengzhou","t":1980.9,"v":-1.5},{"c":"Zhengzhou","t":1981.2,"v":-1.6},{"c":"Zhengzhou","t":1981.6,"v":-1.5},{"c":"Zhengzhou","t":1981.8,"v":-1.4},{"c":"Zhengzhou","t":1981.9,"v":3.1},{"c":"Zhengzhou","t":1982.0,"v":0.0},{"c":"Zhengzhou","t":1982.2,"v":3.1},{"c":"Zhengzhou","t":1982.3,"v":0.0},{"c":"Zhengzhou","t":1982.5,"v":3.1},{"c":"Zhengzhou","t":1982.6,"v":0.5},{"c":"Zhengzhou","t":1982.8,"v":3.1},{"c":"Zhengzhou","t":1982.9,"v":0.0},{"c":"Zhengzhou","t":1983.1,"v":3.1},{"c":"Zhengzhou","t":1983.3,"v":0.0},{"c":"Zhengzhou","t":1983.5,"v":1.6},{"c":"Zhengzhou","t":1983.8,"v":1.0},{"c":"Zhengzhou","t":1984.1,"v":0.7},{"c":"Zhengzhou","t":1984.4,"v":0.6},{"c":"Zhengzhou","t":1984.6,"v":-0.6},{"c":"Zhengzhou","t":1984.8,"v":-0.7},{"c":"Zhengzhou","t":1985.1,"v":-2.4},{"c":"Zhengzhou","t":1985.5,"v":-2.4},{"c":"Zhengzhou","t":1985.9,"v":-2.5},{"c":"Zhengzhou","t":1986.1,"v":-1.8},{"c":"Zhengzhou","t":1986.6,"v":-1.8},{"c":"Zhengzhou","t":1986.9,"v":-1.75},{"c":"Zhengzhou","t":1987.1,"v":-0.1},{"c":"Zhengzhou","t":1987.4,"v":0.3},{"c":"Zhengzhou","t":1987.6,"v":0.1},{"c":"Zhengzhou","t":1987.9,"v":0.3},{"c":"Zhengzhou","t":1988.1,"v":0.4},{"c":"Zhengzhou","t":1988.4,"v":1.0},{"c":"Zhengzhou","t":1988.6,"v":2.6},{"c":"Zhengzhou","t":1988.8,"v":1.7},{"c":"Zhengzhou","t":1989.1,"v":1.5},{"c":"Zhengzhou","t":1989.4,"v":0.8},{"c":"Zhengzhou","t":1989.7,"v":0.4},{"c":"Zhengzhou","t":1990.0,"v":0.0},{"c":"Zhengzhou","t":1990.3,"v":-0.2},{"c":"Zhengzhou","t":1990.7,"v":-0.6},{"c":"Zhengzhou","t":1991.0,"v":0.0},{"c":"Zhengzhou","t":1991.4,"v":0.0},{"c":"Zhengzhou","t":1991.7,"v":-0.3},{"c":"Zhengzhou","t":1992.0,"v":-0.5},{"c":"Zhengzhou","t":1992.4,"v":0.1},{"c":"Zhengzhou","t":1992.7,"v":-0.3},{"c":"Zhengzhou","t":1993.0,"v":-0.5},{"c":"Zhengzhou","t":1993.3,"v":-0.9},{"c":"Zhengzhou","t":1993.5,"v":-0.4},{"c":"Zhengzhou","t":1993.8,"v":-0.5},{"c":"Zhengzhou","t":1994.1,"v":-0.3},{"c":"Zhengzhou","t":1994.4,"v":0.0},{"c":"Zhengzhou","t":1994.7,"v":-0.6},{"c":"Zhengzhou","t":1995.0,"v":-0.5},{"c":"Zhengzhou","t":1995.3,"v":0.1},{"c":"Zhengzhou","t":1995.6,"v":0.3},{"c":"Zhengzhou","t":1995.9,"v":-0.8},{"c":"Zhengzhou","t":1996.3,"v":-0.7},{"c":"Zhengzhou","t":1996.6,"v":-0.6},{"c":"Zhengzhou","t":1996.9,"v":0.5},{"c":"Zhengzhou","t":1997.1,"v":2.1},{"c":"Zhengzhou","t":1997.3,"v":1.2},{"c":"Zhengzhou","t":1997.6,"v":0.5},{"c":"Zhengzhou","t":1997.9,"v":0.0},{"c":"Zhengzhou","t":1998.1,"v":-0.3},{"c":"Zhengzhou","t":1998.4,"v":0.1},{"c":"Zhengzhou","t":1998.6,"v":-0.5},{"c":"Zhengzhou","t":1998.8,"v":-0.6},{"c":"Zhengzhou","t":1999.1,"v":0.1},{"c":"Zhengzhou","t":1999.4,"v":0.3},{"c":"Zhengzhou","t":1999.7,"v":0.2},{"c":"Zhengzhou","t":2000.0,"v":0.4},{"c":"Zhengzhou","t":2000.3,"v":0.5},{"c":"Zhengzhou","t":2000.6,"v":0.6},{"c":"Zhengzhou","t":2000.8,"v":-0.4},{"c":"Zhengzhou","t":2001.1,"v":-0.6},{"c":"Zhengzhou","t":2001.4,"v":-0.3},{"c":"Zhengzhou","t":2001.7,"v":0.0},{"c":"Zhengzhou","t":2002.0,"v":0.0},{"c":"Zhengzhou","t":2002.2,"v":0.1},{"c":"Zhengzhou","t":2002.4,"v":3.1},{"c":"Zhengzhou","t":2002.5,"v":0.0},{"c":"Zhengzhou","t":2002.8,"v":0.0},{"c":"Zhengzhou","t":2003.0,"v":2.5},{"c":"Zhengzhou","t":2003.1,"v":0.1},{"c":"Zhengzhou","t":2003.4,"v":0.3},{"c":"Zhengzhou","t":2003.7,"v":0.2},{"c":"Zhengzhou","t":2004.0,"v":0.3},{"c":"Zhengzhou","t":2004.3,"v":0.5},{"c":"Zhengzhou","t":2004.6,"v":0.3},{"c":"Zhengzhou","t":2004.9,"v":0.0},{"c":"Zhengzhou","t":2005.2,"v":-0.2},{"c":"Zhengzhou","t":2005.5,"v":-0.1},{"c":"Zhengzhou","t":2005.8,"v":-0.3},{"c":"Zhengzhou","t":2006.1,"v":-0.2},{"c":"Zhengzhou","t":2006.4,"v":-0.4},{"c":"Zhengzhou","t":2006.7,"v":-0.1},{"c":"Zhengzhou","t":2007.0,"v":-0.3},{"c":"Zhengzhou","t":2007.3,"v":0.3},{"c":"Zhengzhou","t":2007.5,"v":-0.2},{"c":"Zhengzhou","t":2007.8,"v":-0.3},{"c":"Zhengzhou","t":2008.1,"v":-0.1},{"c":"Zhengzhou","t":2008.4,"v":-0.8},{"c":"Zhengzhou","t":2008.6,"v":-0.2},{"c":"Zhengzhou","t":2008.9,"v":-0.1},{"c":"Zhengzhou","t":2009.2,"v":-0.3},{"c":"Zhengzhou","t":2009.6,"v":-0.4}
]},
"facet":{"field":"c","type":"nominal","title":null,
 "sort":["Anyang","Changzhi","Shijiazhuang","Taiyuan","Xingtai","Xinxiang","Yangcheng","Yushe","Zhengzhou"],
 "header":{"labelOrient":"bottom","labelFont":"Liberation Serif","labelFontSize":10,"labelColor":"#111","labelPadding":3}},
"columns":3,
"bounds":"flush",
"spacing":{"column":26,"row":40},
"spec":{
 "width":162,"height":75,
 "layer":[
  {"mark":{"type":"line","color":"#111","strokeWidth":0.9,"clip":true},
   "encoding":{
    "x":{"field":"t","type":"quantitative","scale":{"domain":[1978.9,2011.2],"nice":false,"zero":false},
      "axis":{"title":null,"orient":"bottom","values":[1979,1980,1981,1982,1983,1984,1985,1986,1987,1988,1989,1990,1991,1992,1993,1994,1995,1996,1997,1998,1999,2000,2001,2002,2003,2004,2005,2006,2007,2008,2009,2010,2011],
       "labelExpr":"datum.value % 5 === 0 ? '' + datum.value : ''","domain":false,"grid":false,"tickSize":-2.5,"tickColor":"#333","labelPadding":5.5,"labelFont":"Liberation Serif","labelFontSize":9.5,"labelColor":"#111","labelFlush":false}},
    "y":{"field":"v","type":"quantitative","scale":{"domain":[-3,3],"nice":false},
      "axis":{"title":null,"orient":"left","values":[-3,-2.5,-2,-1.5,-1,-0.5,0,0.5,1,1.5,2,2.5,3],"format":"d",
       "labelExpr":"datum.value % 1 === 0 ? datum.label : ''","domain":false,"grid":false,"tickSize":-2.5,"tickColor":"#333","labelPadding":6.5,"labelFont":"Liberation Serif","labelFontSize":9.5,"labelColor":"#111","labelFlush":false}}}},
  {"mark":{"type":"line","opacity":0},
   "encoding":{
    "x":{"field":"t","type":"quantitative","axis":{"title":null,"orient":"top","values":[1979,1980,1981,1982,1983,1984,1985,1986,1987,1988,1989,1990,1991,1992,1993,1994,1995,1996,1997,1998,1999,2000,2001,2002,2003,2004,2005,2006,2007,2008,2009,2010,2011],"labels":false,"domain":false,"grid":false,"tickSize":-2.5,"tickColor":"#333"}},
    "y":{"field":"v","type":"quantitative","axis":{"title":null,"orient":"right","values":[-3,-2.5,-2,-1.5,-1,-0.5,0,0.5,1,1.5,2,2.5,3],"labels":false,"domain":false,"grid":false,"tickSize":-2.5,"tickColor":"#333"}}}}
 ],
 "resolve":{"axis":{"x":"independent","y":"independent"}}
},
"resolve":{"axis":{"x":"independent","y":"independent"}},
"config":{"view":{"stroke":"#222","strokeWidth":1}}
}
